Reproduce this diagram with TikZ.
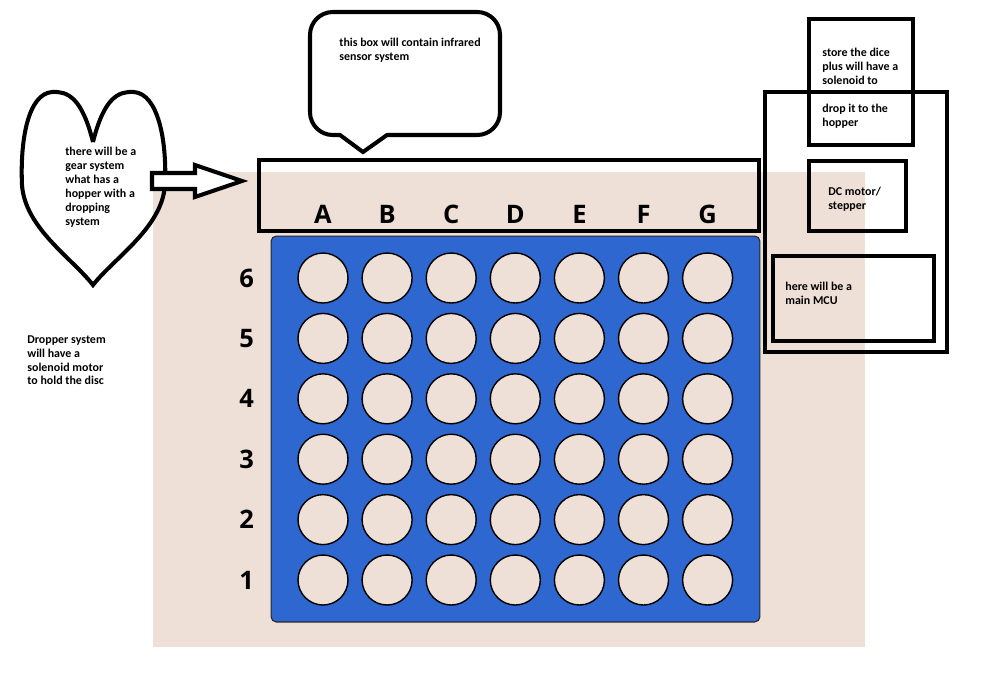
\documentclass[tikz,border=0pt]{standalone}
\usepackage{fontspec}
\setmainfont{Carlito}
\newfontfamily\labelfont{Open Sans}
\usepackage{tikz}
\usetikzlibrary{positioning}
\definecolor{boardblue}{RGB}{46,103,208}
\definecolor{sand}{RGB}{238,224,214}

\begin{document}
\begin{tikzpicture}
        [x=0.02cm,y=-0.02cm,
        note/.style={anchor=north west,inner sep=0,align=left,font=\bfseries\fontsize{6.8}{7.94}\selectfont},
        frame/.style={draw=black,line width=2.5pt,inner sep=0},
        board/.style={rectangle,draw=black!85,line width=0.6pt,fill=boardblue,rounded corners=3pt,inner sep=0},
        hole/.style={circle,draw=black,line width=0.8pt,fill=sand,minimum size=1cm,inner sep=0},
        boardlabel/.style={font=\labelfont\bfseries\fontsize{14.5}{14.5}\selectfont,inner sep=0},
        outline/.style={draw=black,line width=2.3pt,fill=white,line join=miter},]
\useasboundingbox (0,0) rectangle (990,681);

% Background %
\fill[sand] (153,172) rectangle (865,647);

% Board %
\node[board,minimum width=9.78cm,minimum height=7.72cm] (board) at (515.5,429) {};
\foreach \c [count=\i] in {A,B,C,D,E,F,G}
        \foreach \r in {1,...,6}
                \node[hole] (h\c\r) at ({323+64.1*(\i-1)},{580-60.4*(\r-1)}) {};
\foreach \r in {1,...,6} {\node[boardlabel] [left = 0.86cm of hA\r] (row\r) {\r};}

% Sensor %
\node[frame,minimum width=10cm,minimum height=1.42cm] (sensor) at (509,195.5) {};
\foreach \c in {A,B,C,D,E,F,G} {\node[boardlabel] [above = 0.56cm of h\c6] (col\c) {\c};}

% Bubble %
\draw[outline] (363,152) -- (340,135) [rounded corners=13pt] -- (310,135) -- (310,12)
        -- (500,12) -- (500,135) [sharp corners] -- (387,135) -- cycle;
\node[note] (irtext) at (339,38) {this box will contain infrared\\sensor system};

% Heart %
\draw[line width=2.3pt] (93,142) .. controls (82,98) and (68,91) .. (52,92)
        .. controls (28,94) and (20,140) .. (22,185)
        .. controls (25,228) and (72,258) .. (93,285)
        .. controls (114,258) and (162,228) .. (165,185)
        .. controls (167,140) and (158,94) .. (134,92)
        .. controls (118,91) and (104,98) .. (93,142);
\node[note] (geartext) at (65,147) {there will be a\\gear system\\what has a\\hopper with a\\dropping\\system};
\draw[outline] (152,173) -- (195,173) -- (195,165) -- (242,181) -- (195,197) -- (195,189) -- (152,189) -- cycle;
\node[note] (droptext) at (27,335) {Dropper system\\will have a\\solenoid motor\\to hold the disc};

% Right side %
\node[frame,minimum width=2.08cm,minimum height=2.52cm] (store) at (861,82) {};
\node[frame,minimum width=3.64cm,minimum height=5.2cm] (case) at (856,222) {};
\node[frame,minimum width=1.94cm,minimum height=1.4cm] (motor) at (857.5,196) {};
\node[frame,minimum width=3.22cm,minimum height=1.7cm] (mcu) at (853.5,298.5) {};
\node[note] (storetext) at (822,48) {store the dice\\plus will have a\\solenoid to\\[7.94pt]drop it to the\\hopper};
\node[note] (motortext) at (828,187) {DC motor/\\stepper};
\node[note] (mcutext) at (785,282) {here will be a\\main MCU};
\end{tikzpicture}
\end{document}
